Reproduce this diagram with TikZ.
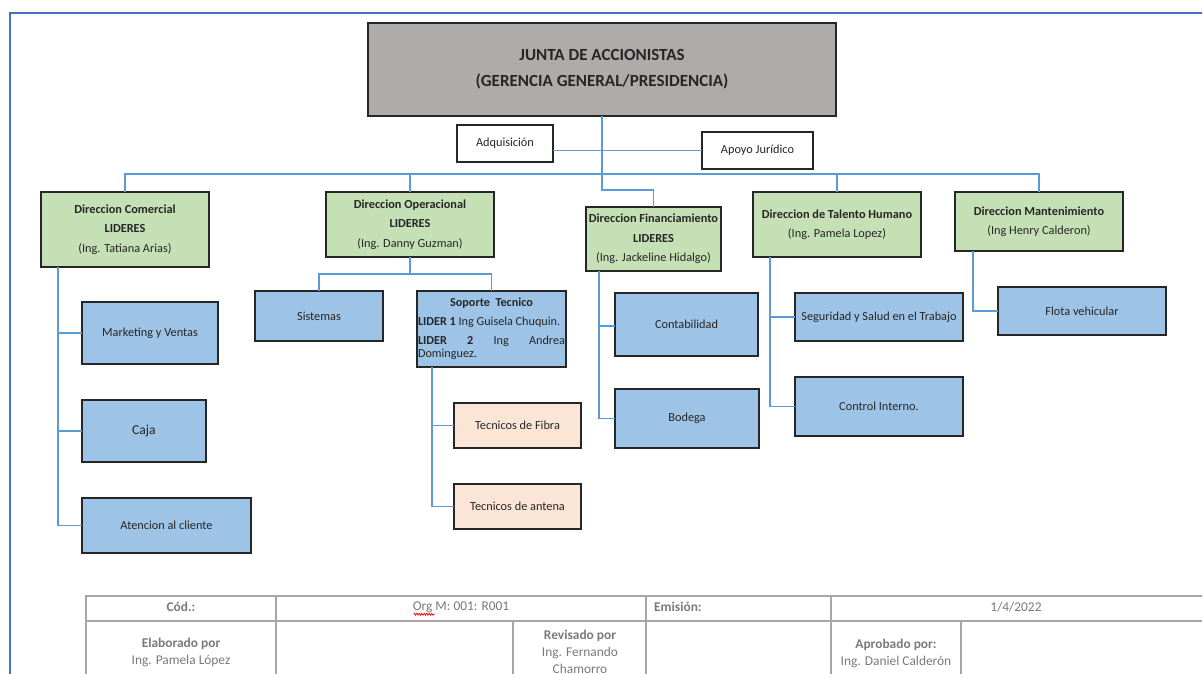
\documentclass[tikz,border=0pt]{standalone}
\usepackage{fontspec}
\setmainfont{Carlito}
\usetikzlibrary{calc,decorations.pathmorphing}
\definecolor{topgray}{HTML}{AEABAB}
\definecolor{dgreen}{HTML}{C5E0B4}
\definecolor{dblue}{HTML}{9DC3E6}
\definecolor{dpeach}{HTML}{FBE5D6}
\definecolor{connblue}{HTML}{5B9BD5}
\definecolor{frameblue}{HTML}{4472C4}
\definecolor{boxline}{HTML}{262626}
\definecolor{tabline}{HTML}{A6A6A6}
\definecolor{tabtext}{HTML}{7A7A7A}
\definecolor{txt}{HTML}{262626}
\tikzset{
  box/.style={draw=boxline, line width=1.3pt, outer sep=0pt, inner sep=1pt, anchor=north west, align=center, text=txt,
    font={\fontsize{12.3pt}{19.5pt}\selectfont}},
  topbox/.style={box, fill=topgray, font={\fontsize{17pt}{26pt}\selectfont\bfseries}},
  wbox/.style={box, fill=white},
  gbox/.style={box, fill=dgreen},
  bbox/.style={box, fill=dblue},
  pbox/.style={box, fill=dpeach},
  conn/.style={draw=connblue, line width=1.6pt},
  tline/.style={draw=tabline, line width=1.3pt},
  ttext/.style={text=tabtext, font={\fontsize{13.4pt}{17pt}\selectfont}, align=center, inner sep=0pt},
}
\begin{document}
\begin{tikzpicture}[x=1pt,y=-1pt]
\useasboundingbox (0,0) rectangle (1202,673);
\clip (0,0) rectangle (1202,673);
\fill[white] (0,0) rectangle (1202,673);
% frame
\draw[frameblue, line width=2pt] (9.5,680) -- (9.5,12.7) -- (1210,12.7);

% nodes
\node[topbox, minimum width=468, minimum height=93] (top) at (368,23) {JUNTA DE ACCIONISTAS\\(GERENCIA GENERAL/PRESIDENCIA)};
\node[wbox, minimum width=96, minimum height=37] (adq) at (457,125) {Adquisición};
\node[wbox, minimum width=111, minimum height=37] (apo) at (702,132) {Apoyo Jurídico};

\node[gbox, minimum width=168, minimum height=75] (com) at (41,192) {\textbf{Direccion Comercial}\\\textbf{LIDERES}\\(Ing. Tatiana Arias)};
\node[gbox, minimum width=168, minimum height=65] (ope) at (326,192) {\textbf{Direccion Operacional}\\\textbf{LIDERES}\\(Ing. Danny Guzman)};
\node[gbox, minimum width=135, minimum height=64, inner sep=0pt] (fin) at (586,207) {\textbf{Direccion Financiamiento}\\\textbf{LIDERES}\\(Ing. Jackeline Hidalgo)};
\node[gbox, minimum width=168, minimum height=65] (tal) at (753,192) {\textbf{Direccion de Talento Humano}\\(Ing. Pamela Lopez)};
\node[gbox, minimum width=168, minimum height=59] (man) at (955,192) {\textbf{Direccion Mantenimiento}\\(Ing Henry Calderon)};

\node[bbox, minimum width=136, minimum height=62] (mkt) at (82,302) {Marketing y Ventas};
\node[bbox, minimum width=124, minimum height=62, font={\fontsize{13.6pt}{15pt}\selectfont}] (caja) at (82,400) {Caja};
\node[bbox, minimum width=169, minimum height=55] (ate) at (82,498) {Atencion al cliente};
\node[bbox, minimum width=128, minimum height=50] (sis) at (255,291) {Sistemas};
\node[bbox, minimum width=149, minimum height=76, inner sep=0pt] (sop) at (417,291) {\parbox{147pt}{\fontsize{12.2pt}{13pt}\selectfont\setlength{\parskip}{6pt}\centering\textbf{Soporte\ \ Tecnico}\par\raggedright\textbf{LIDER 1} Ing Guisela Chuquin.\par\textbf{LIDER}\hfill\textbf{2}\hfill Ing\hfill Andrea\\Dominguez.}};
\node[pbox, minimum width=127, minimum height=45] (fib) at (454,403) {Tecnicos de Fibra};
\node[pbox, minimum width=127, minimum height=45] (ant) at (454,484) {Tecnicos de antena};
\node[bbox, minimum width=143, minimum height=63] (con) at (615,293) {Contabilidad};
\node[bbox, minimum width=144, minimum height=59] (bod) at (615,389) {Bodega};
\node[bbox, minimum width=168, minimum height=48] (seg) at (795,293) {Seguridad y Salud en el Trabajo};
\node[bbox, minimum width=168, minimum height=59] (ctl) at (795,377) {Control Interno.};
\node[bbox, minimum width=168, minimum height=48] (flo) at (998,287) {Flota vehicular};

% connectors
\coordinate (bus) at (0,174);
\coordinate (jog) at (0,190);
\coordinate (obus) at (0,274);
\draw[conn] (com.north) -- (com.north |- bus) -- (man.north |- bus) -- (man.north);
\draw[conn] (ope.north) -- (ope.north |- bus);
\draw[conn] (tal.north) -- (tal.north |- bus);
\draw[conn] (top.south) -- (top.south |- jog) -| (fin.north);
\draw[conn] (apo.west) -- (apo.west -| adq.east);

\coordinate (cv) at ($(com.south west)+(17,0)$);
\draw[conn] (cv) |- (mkt.west);
\draw[conn] (cv) |- (caja.west);
\draw[conn] (cv) |- (ate.west);

\draw[conn] (ope.south) -- (ope.south |- obus);
\draw[conn] (sis.north) -- (sis.north |- obus) -- (sop.north |- obus) -- (sop.north);

\coordinate (sv) at ($(sop.south west)+(15,0)$);
\draw[conn] (sv) |- (fib.west);
\draw[conn] (sv) |- (ant.west);

\coordinate (fv) at ($(fin.south west)+(13,0)$);
\draw[conn] (fv) |- ($(con.west)+(0,1.5)$);
\draw[conn] (fv) |- (bod.west);

\coordinate (tv) at ($(tal.south west)+(17,0)$);
\draw[conn] (tv) |- (seg.west);
\draw[conn] (tv) |- (ctl.west);

\coordinate (mv) at ($(man.south west)+(18,0)$);
\draw[conn] (mv) |- (flo.west);

% table
\draw[tline] (86,680) -- (86,596) -- (1210,596);
\draw[tline] (86,621) -- (1210,621);
\draw[tline] (276,596) -- (276,680);
\draw[tline] (646,596) -- (646,680);
\draw[tline] (831,596) -- (831,680);
\draw[tline] (513,621) -- (513,680);
\draw[tline] (961,621) -- (961,680);

\node[ttext, font={\fontsize{13.4pt}{17pt}\selectfont\bfseries}] (tcod) at (181,607) {Cód.:};
\node[ttext] (torg) at (461,607) {Org M: 001: R001};
\draw[red, line width=0.7pt, decorate, decoration={zigzag, amplitude=1pt, segment length=2.5pt}] ($(torg.base west)+(1,4)$) -- ($(torg.base west)+(22,4)$);
\node[ttext, anchor=west, font={\fontsize{13.4pt}{17pt}\selectfont\bfseries}] (temi) at (654,607) {Emisión:};
\node[ttext] (tfec) at (1016,607) {1/4/2022};
\node[ttext] (telab) at (181,652) {\textbf{Elaborado por}\\Ing. Pamela López};
\node[ttext] (trev) at (580,652) {\textbf{Revisado por}\\Ing. Fernando\\Chamorro};
\node[ttext] (tapr) at (896,653) {\textbf{Aprobado por:}\\Ing. Daniel Calderón};
\end{tikzpicture}
\end{document}
